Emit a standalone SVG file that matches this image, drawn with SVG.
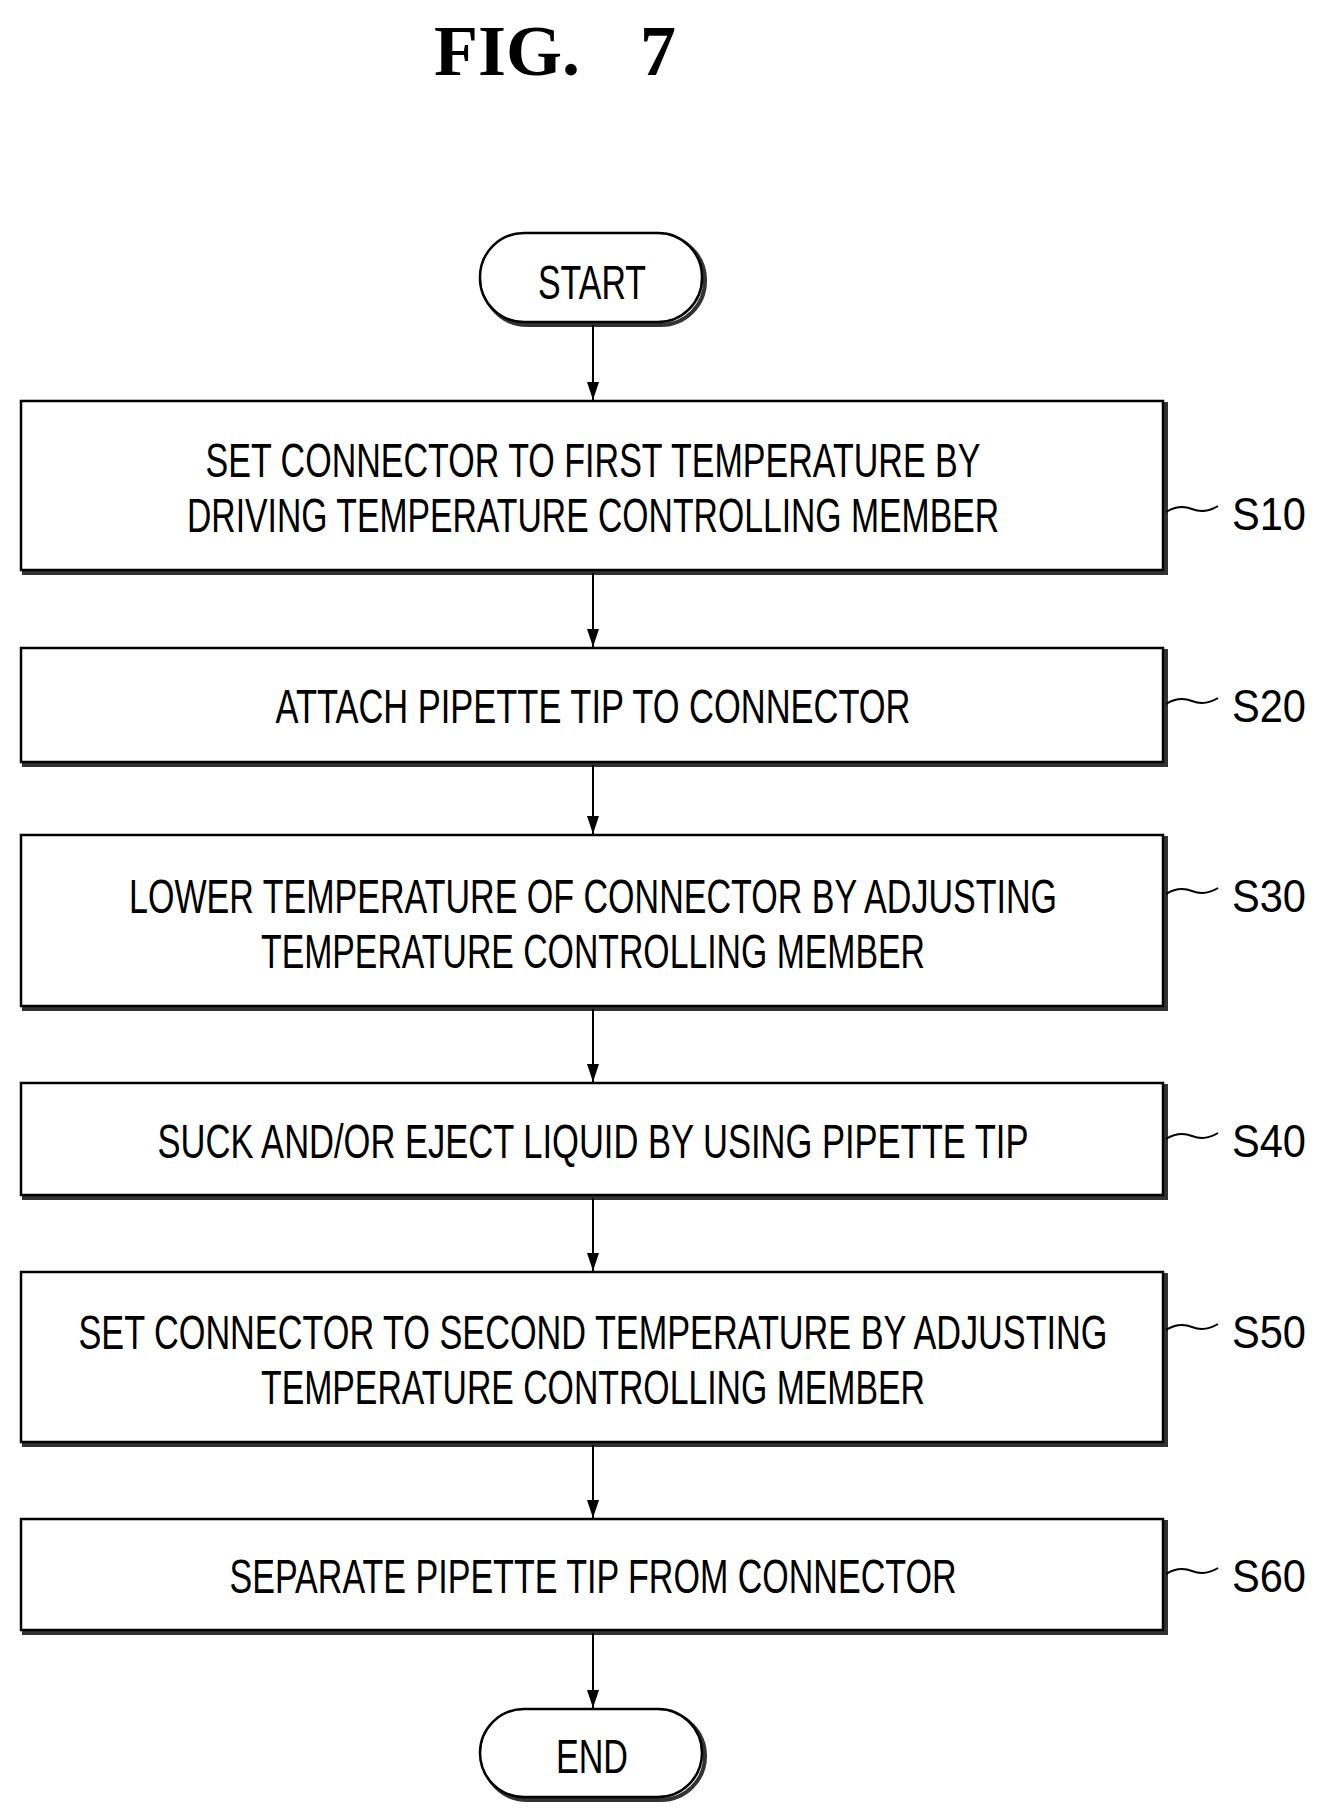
<svg xmlns="http://www.w3.org/2000/svg" width="1323" height="1815" viewBox="0 0 1323 1815">
<style>
.b{fill:#fff;stroke:#000;stroke-width:2.5}
.sh{fill:none;stroke:#333;stroke-width:4}
.t{font-family:"Liberation Sans",Arial,sans-serif;font-size:48px;text-anchor:middle;fill:#000}
.l{font-family:"Liberation Sans",Arial,sans-serif;font-size:46px;fill:#000}
.c{fill:none;stroke:#000;stroke-width:2}
</style>
<defs><marker id="a" markerWidth="18" markerHeight="12" refX="18" refY="6" orient="auto" markerUnits="userSpaceOnUse" viewBox="0 0 18 12"><path d="M0,0 L18,6 L0,12 Z" fill="#000"/></marker></defs>
<rect width="1323" height="1815" fill="#fff"/>
<g id="title" font-family="Liberation Serif,serif" font-weight="bold" font-size="72"><text x="434" y="75">FIG.</text><text x="640" y="75">7</text></g>
<g id="start"><rect x="483" y="236" width="222" height="89" rx="44" class="sh"/><rect x="480" y="233" width="222" height="89" rx="44" class="b"/><text class="t" x="592" y="299" textLength="108" lengthAdjust="spacingAndGlyphs">START</text></g>
<g id="s10"><rect x="24" y="404" width="1142" height="169" class="sh"/><rect x="21" y="401" width="1142" height="169" class="b"/>
<text class="t" x="593" y="477" textLength="775" lengthAdjust="spacingAndGlyphs">SET CONNECTOR TO FIRST TEMPERATURE BY</text>
<text class="t" x="593" y="532" textLength="812" lengthAdjust="spacingAndGlyphs">DRIVING TEMPERATURE CONTROLLING MEMBER</text>
<path class="c" d="M1166,512 q13,-8 26,-3 t26,-3"/><text class="l" x="1232" y="530" textLength="74" lengthAdjust="spacingAndGlyphs">S10</text></g>
<g id="s20"><rect x="24" y="651" width="1142" height="114" class="sh"/><rect x="21" y="648" width="1142" height="114" class="b"/>
<text class="t" x="593" y="723" textLength="635" lengthAdjust="spacingAndGlyphs">ATTACH PIPETTE TIP TO CONNECTOR</text>
<path class="c" d="M1166,704 q13,-8 26,-3 t26,-3"/><text class="l" x="1232" y="722" textLength="74" lengthAdjust="spacingAndGlyphs">S20</text></g>
<g id="s30"><rect x="24" y="838" width="1142" height="171" class="sh"/><rect x="21" y="835" width="1142" height="171" class="b"/>
<text class="t" x="593" y="913" textLength="928" lengthAdjust="spacingAndGlyphs">LOWER TEMPERATURE OF CONNECTOR BY ADJUSTING</text>
<text class="t" x="593" y="968" textLength="664" lengthAdjust="spacingAndGlyphs">TEMPERATURE CONTROLLING MEMBER</text>
<path class="c" d="M1166,894 q13,-8 26,-3 t26,-3"/><text class="l" x="1232" y="912" textLength="74" lengthAdjust="spacingAndGlyphs">S30</text></g>
<g id="s40"><rect x="24" y="1086" width="1142" height="112" class="sh"/><rect x="21" y="1083" width="1142" height="112" class="b"/>
<text class="t" x="593" y="1158" textLength="871" lengthAdjust="spacingAndGlyphs">SUCK AND/OR EJECT LIQUID BY USING PIPETTE TIP</text>
<path class="c" d="M1166,1139 q13,-8 26,-3 t26,-3"/><text class="l" x="1232" y="1157" textLength="74" lengthAdjust="spacingAndGlyphs">S40</text></g>
<g id="s50"><rect x="24" y="1275" width="1142" height="170" class="sh"/><rect x="21" y="1272" width="1142" height="170" class="b"/>
<text class="t" x="593" y="1349" textLength="1029" lengthAdjust="spacingAndGlyphs">SET CONNECTOR TO SECOND TEMPERATURE BY ADJUSTING</text>
<text class="t" x="593" y="1404" textLength="664" lengthAdjust="spacingAndGlyphs">TEMPERATURE CONTROLLING MEMBER</text>
<path class="c" d="M1166,1330 q13,-8 26,-3 t26,-3"/><text class="l" x="1232" y="1348" textLength="74" lengthAdjust="spacingAndGlyphs">S50</text></g>
<g id="s60"><rect x="24" y="1522" width="1142" height="111" class="sh"/><rect x="21" y="1519" width="1142" height="111" class="b"/>
<text class="t" x="593" y="1593" textLength="727" lengthAdjust="spacingAndGlyphs">SEPARATE PIPETTE TIP FROM CONNECTOR</text>
<path class="c" d="M1166,1574 q13,-8 26,-3 t26,-3"/><text class="l" x="1232" y="1592" textLength="74" lengthAdjust="spacingAndGlyphs">S60</text></g>
<g id="end"><rect x="483" y="1712" width="222" height="88" rx="44" class="sh"/><rect x="480" y="1709" width="222" height="88" rx="44" class="b"/><text class="t" x="592" y="1773" textLength="72" lengthAdjust="spacingAndGlyphs">END</text></g>
<g id="connectors">
<line class="c" x1="593" y1="325" x2="593" y2="400" marker-end="url(#a)"/>
<line class="c" x1="593" y1="573" x2="593" y2="647" marker-end="url(#a)"/>
<line class="c" x1="593" y1="765" x2="593" y2="834" marker-end="url(#a)"/>
<line class="c" x1="593" y1="1009" x2="593" y2="1082" marker-end="url(#a)"/>
<line class="c" x1="593" y1="1198" x2="593" y2="1271" marker-end="url(#a)"/>
<line class="c" x1="593" y1="1445" x2="593" y2="1518" marker-end="url(#a)"/>
<line class="c" x1="593" y1="1633" x2="593" y2="1708" marker-end="url(#a)"/>
</g>
</svg>
